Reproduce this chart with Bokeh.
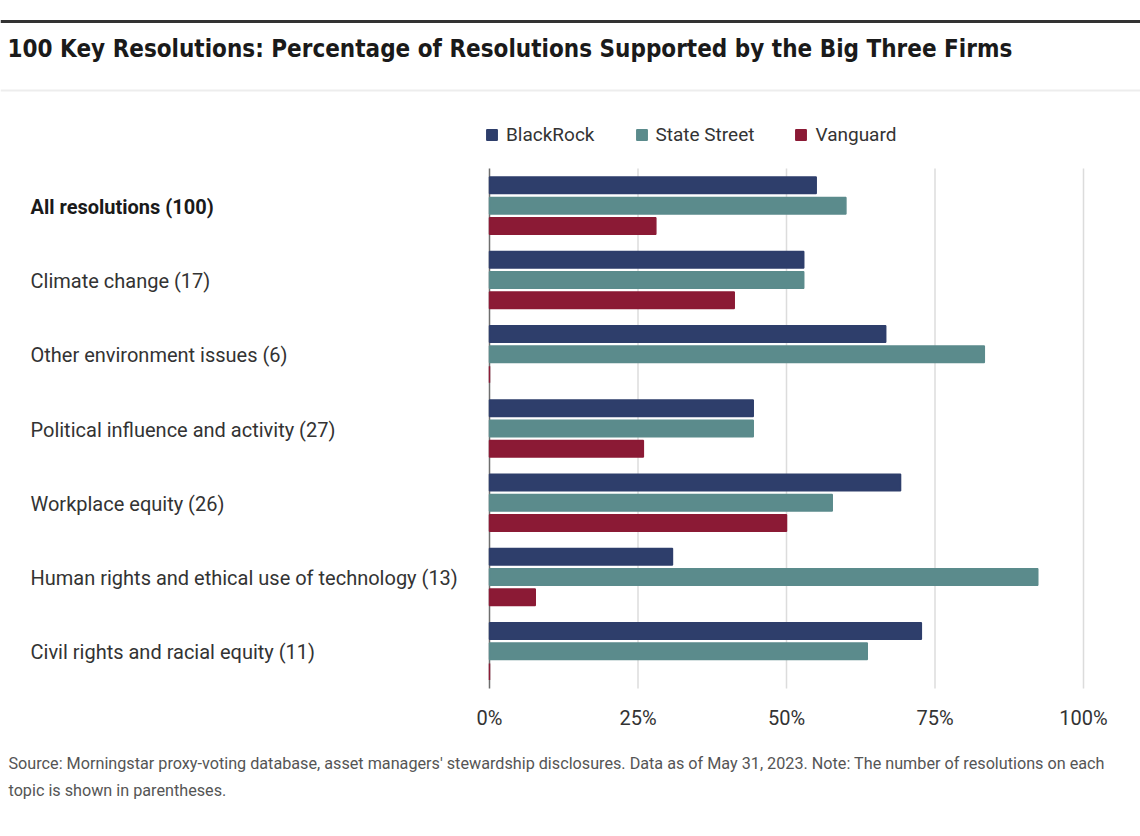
from bokeh.plotting import figure
from bokeh.models import Range1d, FixedTicker, Legend, LegendItem, Span, Title
from bokeh.core.properties import value
from bokeh.embed import file_html
from bokeh.resources import INLINE

# ---------------- data ----------------
categories = [
    "All resolutions (100)",
    "Climate change (17)",
    "Other environment issues (6)",
    "Political influence and activity (27)",
    "Workplace equity (26)",
    "Human rights and ethical use of technology (13)",
    "Civil rights and racial equity (11)",
]
series_names = ["BlackRock", "State Street", "Vanguard"]
blackrock = [55.0, 52.9, 66.7, 44.4, 69.2, 30.8, 72.7]
state_street = [60.0, 52.9, 83.3, 44.4, 57.7, 92.3, 63.6]
vanguard = [28.0, 41.2, 0.0, 25.9, 50.0, 7.7, 0.0]
x_ticks = [0, 25, 50, 75, 100]
x_tick_labels = ["0%", "25%", "50%", "75%", "100%"]

title_text = "100 Key Resolutions: Percentage of Resolutions Supported by the Big Three Firms"
footer_lines = [
    "Source: Morningstar proxy-voting database, asset managers' stewardship disclosures. Data as of May 31, 2023. Note: The number of resolutions on each",
    "topic is shown in parentheses.",
]

# ---------------- styles / layout ----------------
FONT = "Roboto"
TITLE_FONT = "DejaVu Sans Condensed"
colors = ["#2E3E6B", "#5B8B8C", "#8B1A35"]
W, H = 1140, 832
FRAME_H = 692
X0 = 489.0          # px of 0 %
PX_PER = 5.94       # px per 1 %
TOP = 168.0         # px of top of first group
GROUP_PX = 520.0 / 7

def X(px):
    return (px - X0) / PX_PER

def Y(py):
    return (py - TOP) / GROUP_PX

p = figure(
    width=W, height=H,
    x_range=Range1d(-X0 / PX_PER, (W - X0) / PX_PER),
    y_range=Range1d((FRAME_H - TOP) / GROUP_PX, -TOP / GROUP_PX),
    output_backend="svg", toolbar_location=None,
    y_axis_location=None, title_location=None,
    min_border_left=0, min_border_right=0, min_border_top=0,
    min_border_bottom=H - FRAME_H,
)
p.outline_line_color = None
p.background_fill_color = "white"
p.border_fill_color = "white"
p.xgrid.grid_line_color = None
p.ygrid.grid_line_color = None

n = len(categories)

# grid lines and zero axis line
p.segment(x0=x_ticks[1:], x1=x_ticks[1:], y0=[0] * 4, y1=[n] * 4,
          line_color="#dcdcdc", line_width=1.5)
p.segment(x0=[0], x1=[0], y0=[0], y1=[n], line_color="#6e6e6e", line_width=1.5)

# bars
offsets = [-20.3 / GROUP_PX, 0.0, 20.3 / GROUP_PX]
bar_h = 16.5 / GROUP_PX
renderers = []
for vals, col, off in zip([blackrock, state_street, vanguard], colors, offsets):
    ys = [i + 0.5 + off for i in range(n)]
    r = p.hbar(y=ys, left=0, right=vals, height=bar_h,
               fill_color=col, line_color=col, line_width=1.5)
    renderers.append(r)

# category labels
p.text(x=[X(30)], y=[0.5], text=categories[:1], text_font=value(FONT),
       text_font_size="20px", text_font_style="bold", text_color="#1a1a1a",
       text_baseline="middle", text_align="left", y_offset=1)
p.text(x=[X(30)] * (n - 1), y=[i + 0.5 for i in range(1, n)], text=categories[1:],
       text_font=value(FONT), text_font_size="20px", text_color="#333333",
       text_baseline="middle", text_align="left", y_offset=1)

# title and rules
p.add_layout(Span(location=Y(21), dimension="width", line_color="#333333", line_width=3))
p.add_layout(Span(location=Y(90), dimension="width", line_color="#ededed", line_width=2))
p.text(x=[X(7)], y=[Y(48)], text=[title_text], text_font=value(TITLE_FONT),
       text_font_size="24px", text_font_style="bold", text_color="#1a1a1a",
       text_baseline="middle", text_align="left")

# legend
legend = Legend(
    items=[LegendItem(label=nm, renderers=[r]) for nm, r in zip(series_names, renderers)],
    orientation="horizontal", location=(485, 546),
    glyph_width=13, glyph_height=13, label_standoff=8, spacing=40,
    padding=0, margin=0, border_line_color=None, background_fill_alpha=0,
    label_text_font=FONT, label_text_font_size="19px", label_text_color="#333333",
)
p.add_layout(legend)

# x axis
p.xaxis.ticker = FixedTicker(ticks=x_ticks)
p.xaxis.major_label_overrides = dict(zip(x_ticks, x_tick_labels))
p.xaxis.axis_line_color = None
p.xaxis.major_tick_line_color = None
p.xaxis.minor_tick_line_color = None
p.xaxis.major_label_standoff = 7
p.xaxis.major_label_text_font = FONT
p.xaxis.major_label_text_font_size = "20px"
p.xaxis.major_label_text_color = "#333333"

# footer (one multi-line title below the axis)
p.add_layout(Title(text="\n".join(footer_lines), align="left", offset=8, text_font=FONT,
                   text_font_size="16.2px", text_font_style="normal",
                   text_color="#555555", standoff=38, text_line_height=1.45), "below")

open("out.html", "w").write(file_html(p, INLINE))
